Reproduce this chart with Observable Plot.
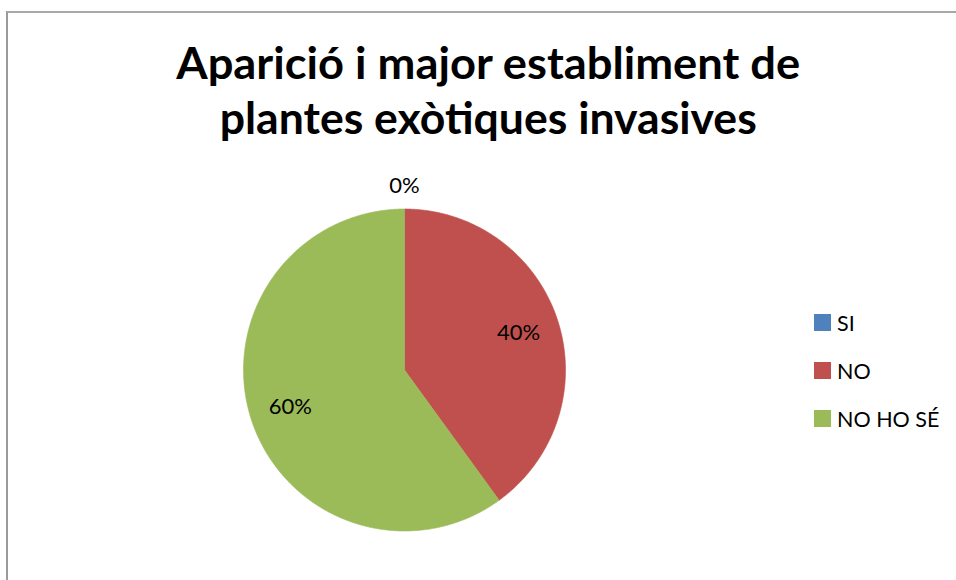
<!DOCTYPE html>
<html>
<head>
<meta charset="utf-8">
<script src="https://cdn.jsdelivr.net/npm/d3@7"></script>
<script src="https://cdn.jsdelivr.net/npm/@observablehq/plot@0.6"></script>
<style>
  html, body { margin: 0; padding: 0; background: #fff; }
  #page { position: relative; width: 956px; height: 580px; overflow: hidden; background: #fff; font-family: Lato, "Open Sans", sans-serif; }
  #frame { position: absolute; left: 6px; top: 11px; width: 960px; height: 580px; border-left: 2px solid #9a9a9a; border-top: 2px solid #a8a8a8; box-sizing: border-box; }
  #title { position: absolute; left: 0; top: 35px; width: 976px; text-align: center; font-weight: 700; font-size: 44px; line-height: 55px; color: #000; }
  #title span { display: inline-block; transform-origin: center; white-space: nowrap; }
  #chart { position: absolute; left: 0; top: 0; }
  #legend { position: absolute; left: 814px; top: 314px; }
  .row { display: flex; align-items: center; height: 17px; margin-bottom: 31px; font-size: 21.5px; color: #000; }
  .sw { width: 17px; height: 17px; margin-right: 6px; flex: none; }
</style>
</head>
<body>
<div id="page">
  <div id="frame"></div>
  <div id="chart"></div>
  <div id="title"></div>
  <div id="legend"></div>
</div>
<script>
const titleLines = ["Aparició i major establiment de", "plantes exòtiques invasives"];
const categories = ["SI", "NO", "NO HO SÉ"];
const values = [0, 40, 60];
const labels = ["0%", "40%", "60%"];
const colors = ["#4F81BD", "#C0504D", "#9BBB59"];

// title
const titleEl = document.getElementById("title");
const targetWidths = [624, 537];
titleLines.forEach((t, i) => {
  const s = document.createElement("span");
  s.textContent = t;
  titleEl.appendChild(s);
  if (i < titleLines.length - 1) titleEl.appendChild(document.createElement("br"));
});
titleEl.querySelectorAll("span").forEach((s, i) => {
  const w = s.getBoundingClientRect().width;
  s.style.transform = `scaleX(${targetWidths[i] / w})`;
});

// legend
const legendEl = document.getElementById("legend");
categories.forEach((c, i) => {
  const row = document.createElement("div");
  row.className = "row";
  const sw = document.createElement("div");
  sw.className = "sw";
  sw.style.background = colors[i];
  const tx = document.createElement("span");
  tx.textContent = c;
  row.appendChild(sw); row.appendChild(tx);
  legendEl.appendChild(row);
});

// pie geometry
const cx = 404, cy = 369.5, R = 161;
const rows = categories.map((c, i) => ({category: c, value: values[i], label: labels[i]}));
const arcs = d3.pie().sort(null).value(d => d.value)(rows);

const pts = [];
arcs.filter(a => a.data.value > 0).forEach(a => {
  const n = Math.max(2, Math.ceil((a.endAngle - a.startAngle) / (Math.PI / 360)));
  pts.push({category: a.data.category, x: cx, y: cy});
  for (let k = 0; k <= n; k++) {
    const t = a.startAngle + (a.endAngle - a.startAngle) * k / n;
    pts.push({category: a.data.category, x: cx + R * Math.sin(t), y: cy - R * Math.cos(t)});
  }
  pts.push({category: a.data.category, x: cx, y: cy});
});

const labelPts = arcs.map(a => {
  const mid = (a.startAngle + a.endAngle) / 2;
  const d = a.data.value > 0 ? R * 0.745 : R + 23;
  return {label: a.data.label, x: cx + d * Math.sin(mid), y: cy - d * Math.cos(mid)};
});

const chart = Plot.plot({
  width: 956,
  height: 580,
  margin: 0,
  x: {domain: [0, 956], range: [0, 956], axis: null},
  y: {domain: [0, 580], range: [0, 580], axis: null},
  color: {domain: categories, range: colors},
  style: {background: "transparent"},
  marks: [
    Plot.line(pts, {x: "x", y: "y", z: "category", fill: "category", stroke: "category", strokeWidth: 0.6, curve: "linear"}),
    Plot.text(labelPts, {x: "x", y: "y", text: "label", fontSize: 22, fill: "#000", textAnchor: "middle", lineAnchor: "middle", fontFamily: "Lato, sans-serif"})
  ]
});
document.getElementById("chart").appendChild(chart);
</script>
</body>
</html>
